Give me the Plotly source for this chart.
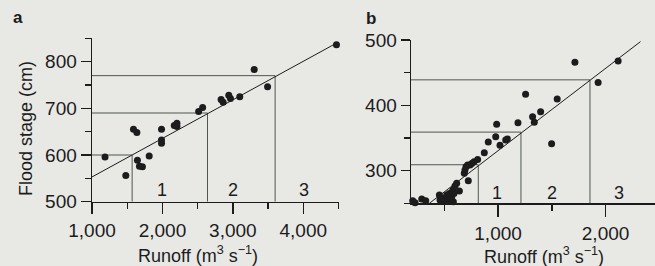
import plotly.graph_objects as go

W, H = 655, 266

# ---------------- Panel a data ----------------
a_runoff = [1185, 1480, 1589, 1637, 1645, 1674, 1716, 1812, 1987, 1987, 1987,
            2168, 2206, 2206, 2514, 2571, 2833, 2862, 2942, 2966, 3098, 3303,
            3493, 4471, 4514]
a_stage = [596, 556, 655, 648, 589, 576, 575, 598, 655, 632, 625,
           663, 668, 661, 693, 702, 719, 713, 728, 721, 725, 783,
           746, 836, 823]
a_fit_runoff = [1000, 4500]
a_fit_stage = [553, 842]
a_thr_runoff = [1570, 2640, 3600]
a_thr_stage = [600, 690, 770]
a_zone_text = ["1", "2", "3"]
a_zone_runoff = [1990, 3000, 4010]
a_zone_stage = [524, 524, 524]
a_xtick_vals = [1000, 2000, 3000, 4000]
a_xtick_text = ["1,000", "2,000", "3,000", "4,000"]
a_ytick_vals = [500, 600, 700, 800]
a_ytick_text = ["500", "600", "700", "800"]

# ---------------- Panel b data ----------------
b_runoff = [206, 228, 290, 327, 454, 460, 485, 506, 522, 553, 569, 584, 547,
            578, 599, 615, 640, 590, 723, 686, 692, 702, 717, 739, 755, 776,
            810, 872, 909, 978, 987, 1018, 1071, 1086, 1185, 1256, 1321, 1337,
            1396, 1498, 1550, 1715, 1931, 2117]
b_stage = [254, 251, 256.6, 254, 262.7, 255, 257.7, 254, 262.7, 255, 260,
           252.5, 265, 270, 276.5, 280.6, 269, 265, 284.6, 296, 301, 306,
           308.6, 308.6, 311, 313.7, 317, 327.5, 344, 352, 371, 339, 347,
           348.5, 373.5, 417, 382.6, 374, 390, 341, 409.7, 466, 435, 468]
b_fit_runoff = [361, 2325]
b_fit_stage = [250, 497.5]
b_thr_runoff = [816, 1213, 1855]
b_thr_stage = [309, 359, 439]
b_zone_text = ["1", "2", "3"]
b_zone_runoff = [987, 1506, 2128]
b_zone_stage = [266.5, 266.5, 266.5]
b_xtick_vals = [1000, 2000]
b_xtick_text = ["1,000", "2,000"]
b_ytick_vals = [300, 400, 500]
b_ytick_text = ["300", "400", "500"]

A_XR = [1000, 4500]
A_YR = [500, 850]
B_XR = [190, 2460]
B_YR = [250, 500]

INK = "#1c1c1c"
THR = "#4f574f"
BG = "#e8e8e5"
FONT = "Liberation Sans"


def thr_paths(thr_x, thr_y, x0, y0):
    xs, ys = [], []
    for tx, ty in zip(thr_x, thr_y):
        xs += [x0, tx, tx, None]
        ys += [ty, ty, y0, None]
    return xs, ys


fig = go.Figure()

# panel a
hx, hy = thr_paths(a_thr_runoff, a_thr_stage, A_XR[0], A_YR[0])
fig.add_trace(go.Scatter(x=hx, y=hy, mode="lines", line=dict(color=THR, width=1),
                         xaxis="x", yaxis="y", hoverinfo="skip"))
fig.add_trace(go.Scatter(x=a_fit_runoff, y=a_fit_stage, mode="lines",
                         line=dict(color=INK, width=1), xaxis="x", yaxis="y"))
fig.add_trace(go.Scatter(x=a_runoff, y=a_stage, mode="markers",
                         marker=dict(color=INK, size=7), cliponaxis=False,
                         xaxis="x", yaxis="y"))

# panel b
hx, hy = thr_paths(b_thr_runoff, b_thr_stage, B_XR[0], B_YR[0])
fig.add_trace(go.Scatter(x=hx, y=hy, mode="lines", line=dict(color=THR, width=1),
                         xaxis="x2", yaxis="y2", hoverinfo="skip"))
fig.add_trace(go.Scatter(x=b_fit_runoff, y=b_fit_stage, mode="lines",
                         line=dict(color=INK, width=1), xaxis="x2", yaxis="y2"))
fig.add_trace(go.Scatter(x=b_runoff, y=b_stage, mode="markers",
                         marker=dict(color=INK, size=7), cliponaxis=False,
                         xaxis="x2", yaxis="y2"))


def axis(domain, rng, anchor, tickvals, ticktext, ticklen, minor_dtick, minor_len):
    return dict(domain=domain, range=rng, anchor=anchor, showgrid=False,
                automargin=False,
                zeroline=False, showline=True, linecolor=INK, linewidth=1.4,
                ticks="outside", ticklen=ticklen, tickwidth=1.4, tickcolor=INK,
                tickmode="array", tickvals=tickvals, ticktext=ticktext,
                tickfont=dict(family=FONT, size=19, color=INK),
                minor=dict(ticks="outside", ticklen=minor_len, tickwidth=1.4,
                           tickcolor=INK, dtick=minor_dtick, tick0=0,
                           showgrid=False),
                fixedrange=True)


def px(v):
    return v / W


def py(v):
    return 1 - v / H


annotations = []
for t, xv, yv in zip(a_zone_text, a_zone_runoff, a_zone_stage):
    annotations.append(dict(text=t, x=xv, y=yv, xref="x", yref="y", showarrow=False,
                            font=dict(family=FONT, size=18, color=INK)))
for t, xv, yv in zip(b_zone_text, b_zone_runoff, b_zone_stage):
    annotations.append(dict(text=t, x=xv, y=yv, xref="x2", yref="y2", showarrow=False,
                            font=dict(family=FONT, size=18, color=INK)))

title_font = dict(family=FONT, size=18, color=INK)
annotations += [
    dict(text="Runoff (m<sup>3</sup> s<sup>−1</sup>)", x=px(198), y=py(254),
         xref="paper", yref="paper", showarrow=False, xanchor="center",
         yanchor="middle", font=title_font),
    dict(text="Runoff (m<sup>3</sup> s<sup>−1</sup>)", x=px(544), y=py(255),
         xref="paper", yref="paper", showarrow=False, xanchor="center",
         yanchor="middle", font=title_font),
    dict(text="Flood stage (cm)", x=px(26), y=py(129), xref="paper", yref="paper",
         showarrow=False, textangle=-90, xanchor="center", yanchor="middle",
         font=title_font),
    dict(text="<b>a</b>", x=px(17.5), y=py(17), xref="paper", yref="paper",
         showarrow=False, xanchor="center", yanchor="middle",
         font=dict(family=FONT, size=17, color=INK)),
    dict(text="<b>b</b>", x=px(371), y=py(18), xref="paper", yref="paper",
         showarrow=False, xanchor="center", yanchor="middle",
         font=dict(family=FONT, size=17, color=INK)),
]

fig.update_layout(
    width=W, height=H,
    margin=dict(l=0, r=0, t=0, b=0),
    paper_bgcolor=BG, plot_bgcolor="rgba(0,0,0,0)",
    showlegend=False,
    font=dict(family=FONT, size=18, color=INK),
    xaxis=axis([px(92), px(338.5)], A_XR, "y", a_xtick_vals, a_xtick_text, 11, 500, 6),
    yaxis=axis([1 - 201.7 / H, 1 - 38.3 / H], A_YR, "x", a_ytick_vals, a_ytick_text, 10, 50, 6),
    xaxis2=axis([px(411), 1.0], B_XR, "y2", b_xtick_vals, b_xtick_text, 12, 500, 6),
    yaxis2=axis([1 - 203.3 / H, 1 - 40 / H], B_YR, "x2", b_ytick_vals, b_ytick_text, 9, 50, 6),
    annotations=annotations,
)

fig.write_html(
    "out.html",
    config={"displayModeBar": False, "staticPlot": True},
    post_script="document.body.style.margin='0';document.body.style.overflow='hidden';"
                "document.documentElement.style.background='" + BG + "';",
)
